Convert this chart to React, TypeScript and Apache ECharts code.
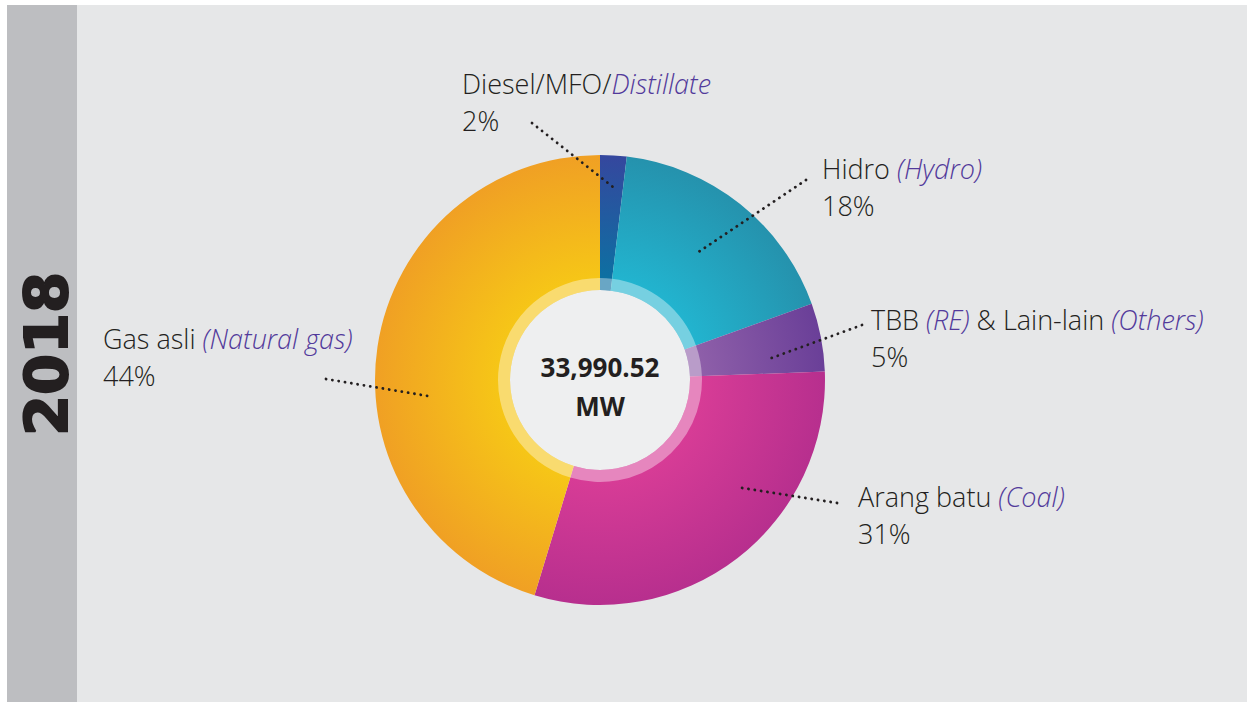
import React, { useEffect, useRef } from "react";
import * as echarts from "echarts";

// ---- data ----
const localNames = ["Diesel/MFO/", "Hidro ", "TBB ", "Arang batu ", "Gas asli "];
const englishNames = ["Distillate", "(Hydro)", "(RE)", "(Coal)", "(Natural gas)"];
const extraLocal = ["", "", " & Lain-lain ", "", ""];
const extraEnglish = ["", "", "(Others)", "", ""];
// shares as drawn (angles)
const sliceShares = [1.9, 17.6, 4.9, 30.3, 45.3];
// percentages printed on the labels
const shareLabels = ["2%", "18%", "5%", "31%", "44%"];
const totalMW = "33,990.52";
const unit = "MW";
const yearLabel = "2018";

// ---- styles / layout (not data) ----
const innerColors = ["#0d70a2", "#22b4cf", "#8e5fa9", "#d73c96", "#f6c617"];
const outerColors = ["#35479e", "#2592ad", "#6a3f98", "#b72f8e", "#f0a024"];
const labelAnchors = [
  [462, 65],
  [822, 150],
  [871, 301],
  [858, 478],
  [103, 320],
];
const leaderLines = [
  [[532, 123], [613, 187]],
  [[806, 180], [697, 253]],
  [[862, 325], [766, 360]],
  [[837, 503], [736, 487]],
  [[326, 379], [428, 396]],
];

const CX = 600;
const CY = 380;
const R_OUT = 225;
const R_IN = 90;
const R_RING = 102;

export default function App() {
  const ref = useRef<HTMLDivElement>(null);

  useEffect(() => {
    if (!ref.current) return;
    const chart = echarts.init(ref.current, null, { renderer: "svg" });

    const data = localNames.map((n, i) => ({
      name: n + englishNames[i] + extraLocal[i] + extraEnglish[i],
      value: sliceShares[i],
      itemStyle: {
        color: {
          type: "radial",
          x: CX,
          y: CY,
          r: R_OUT,
          global: true,
          colorStops: [
            { offset: 0, color: innerColors[i] },
            { offset: 0.45, color: innerColors[i] },
            { offset: 1, color: outerColors[i] },
          ],
        },
      },
    }));

    const textColor = "#231f20";
    const italicColor = "#523a9b";
    const font = "'Open Sans', 'Noto Sans', sans-serif";

    chart.setOption({
      animation: false,
      graphic: [
        { type: "rect", shape: { x: 0, y: 0, width: 1247, height: 702 }, style: { fill: "#ffffff" } },
        { type: "rect", shape: { x: 7, y: 5, width: 70, height: 697 }, style: { fill: "#bdbec1" } },
        { type: "rect", shape: { x: 77, y: 5, width: 1170, height: 697 }, style: { fill: "#e6e7e8" } },
        {
          type: "text",
          x: 46,
          y: 354,
          rotation: Math.PI / 2,
          style: {
            text: yearLabel,
            font: "bold 59px 'DejaVu Sans', sans-serif",
            fill: textColor,
            stroke: textColor,
            lineWidth: 2,
            textAlign: "center",
            textVerticalAlign: "middle",
          },
        },
        { type: "circle", shape: { cx: CX, cy: CY, r: R_IN }, style: { fill: "#eeeff0" } },
        {
          type: "text",
          x: CX,
          y: 367,
          z: 10,
          style: {
            text: totalMW,
            font: `bold 26px ${font}`,
            fill: textColor,
            textAlign: "center",
            textVerticalAlign: "middle",
          },
        },
        {
          type: "text",
          x: CX,
          y: 406,
          z: 10,
          style: {
            text: unit,
            font: `bold 26px ${font}`,
            fill: textColor,
            textAlign: "center",
            textVerticalAlign: "middle",
          },
        },
      ],
      series: [
        {
          type: "pie",
          center: [CX, CY],
          radius: [R_IN, R_OUT],
          startAngle: 90,
          clockwise: true,
          silent: true,
          data,
          itemStyle: { borderWidth: 0 },
          label: { show: false },
          labelLine: { show: false },
        },
        {
          type: "pie",
          center: [CX, CY],
          radius: [R_IN, R_RING],
          startAngle: 90,
          clockwise: true,
          silent: true,
          z: 3,
          data: sliceShares.map((v, i) => ({ name: localNames[i], value: v })),
          itemStyle: { color: "rgba(255,255,255,0.38)", borderWidth: 0 },
          label: { show: false },
          labelLine: { show: false },
        },
        {
          // transparent carrier of the labels and dotted leader lines, drawn on top
          type: "pie",
          center: [CX, CY],
          radius: [R_IN, R_OUT],
          startAngle: 90,
          clockwise: true,
          silent: true,
          z: 5,
          data: sliceShares.map((v, i) => ({ name: localNames[i], value: v })),
          itemStyle: { color: "rgba(0,0,0,0)", borderWidth: 0 },
          label: {
            show: true,
            position: "outside",
            formatter: (p: any) => {
              const i = p.dataIndex;
              let s = `{n|${localNames[i]}}{i|${englishNames[i]}}`;
              if (extraLocal[i]) s += `{n|${extraLocal[i]}}{i|${extraEnglish[i]}}`;
              return s + `\n{n|${shareLabels[i]}}`;
            },
            rich: {
              n: { fontFamily: font, fontSize: 27, fontWeight: 300, color: textColor, lineHeight: 37 },
              i: {
                fontFamily: font,
                fontSize: 27,
                fontWeight: 300,
                fontStyle: "italic",
                color: italicColor,
                lineHeight: 37,
              },
            },
          },
          labelLine: {
            show: true,
            lineStyle: { color: textColor, width: 2.8, type: [0.1, 6.3], cap: "round" },
          },
          labelLayout: (params: any) => {
            const i = params.dataIndex;
            return {
              x: labelAnchors[i][0],
              y: labelAnchors[i][1],
              align: "left",
              verticalAlign: "top",
              labelLinePoints: leaderLines[i],
            };
          },
        },
      ],
    });

    return () => chart.dispose();
  }, []);

  return (
    <div
      ref={ref}
      style={{ position: "absolute", left: 0, top: 0, width: 1247, height: 702 }}
    />
  );
}
